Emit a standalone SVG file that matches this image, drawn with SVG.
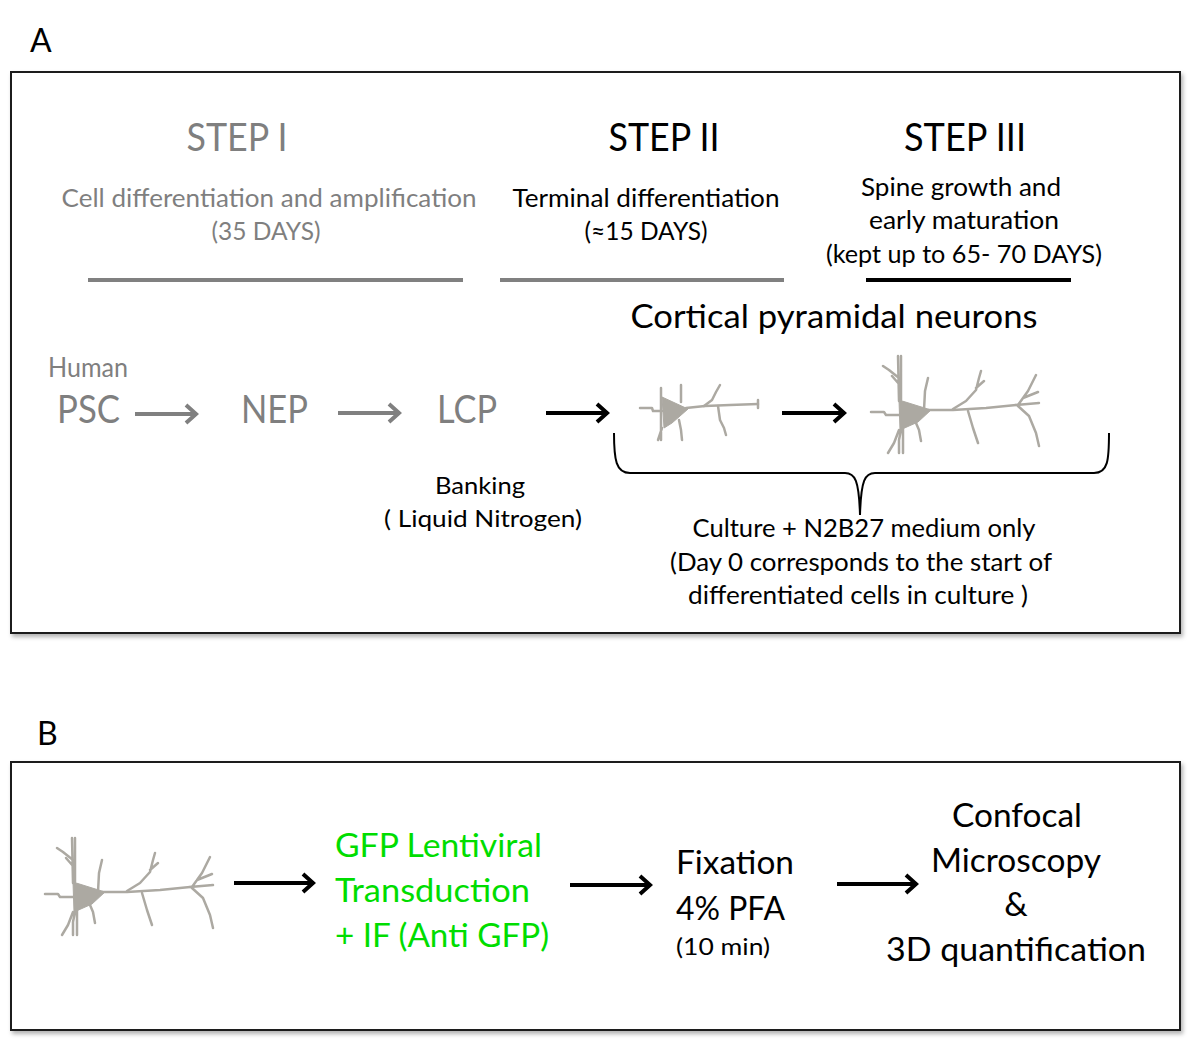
<svg xmlns="http://www.w3.org/2000/svg" xmlns:xlink="http://www.w3.org/1999/xlink" width="1200" height="1060" viewBox="0 0 1200 1060">
<defs>
<style>
text{font-family:Lato,"Liberation Sans",sans-serif}
.g{fill:#7f7f7f}
.k{fill:#000}
.gr{fill:#00dd00}
.box{fill:#fff;stroke:#1a1a1a;stroke-width:2}
.bar{stroke-width:4;fill:none}
.arr{fill:none;stroke-width:4;stroke-linecap:butt;stroke-linejoin:miter}
.brace{fill:none;stroke:#000;stroke-width:2}
.neu{fill:none;stroke:#aca9a2;stroke-width:2.5;stroke-linecap:round;stroke-linejoin:round}
.soma{fill:#aca9a2;stroke:#aca9a2;stroke-width:1;stroke-linejoin:round}
</style>
<filter id="sh" x="-5%" y="-5%" width="110%" height="115%">
<feDropShadow dx="2" dy="3" stdDeviation="2" flood-color="#000" flood-opacity="0.3"/>
</filter>
<g id="neuronBig">
<path class="soma" d="M73,882 L74,912 L92,904 L105,892 Z"/>
<path class="neu" stroke-width="4" d="M102,892 L127,892 L160,890 L190,887"/>
<path class="neu" d="M190,887 L213,885 M127,891 L140,883 L150,872 L153,860 L155,853 M150,870 L158,863 M142,893 L147,910 L152,925 M192,887 L202,873 L210,857 M197,880 L212,874 M192,888 L203,898 L210,915 L213,928 M98,892 L99,873 L102,860 M72,838 L73,883 M75,838 L75,882 M73,860 L63,852 L57,848 M73,866 L66,858 M45,894 L58,894 L60,897 L73,897 M73,912 L68,925 L62,935 M75,912 L73,922 L73,935 M77,910 L77,935 M90,905 L93,912 L95,923"/>
</g>
</defs>

<rect width="1200" height="1060" fill="#fff"/>

<g id="panelA">
<text x="30" y="52" font-size="32" class="k">A</text>
<rect class="box" x="11" y="72" width="1169" height="561" filter="url(#sh)"/>
</g>

<g id="step1">
<text x="237" y="151" font-size="38" class="g" text-anchor="middle" textLength="101" lengthAdjust="spacingAndGlyphs">STEP I</text>
<text x="269" y="207" font-size="25" class="g" text-anchor="middle" textLength="415" lengthAdjust="spacingAndGlyphs">Cell differentiation and amplification</text>
<text x="266" y="240" font-size="25" class="g" text-anchor="middle" textLength="109" lengthAdjust="spacingAndGlyphs">(35 DAYS)</text>
<line class="bar" x1="88" y1="280" x2="463" y2="280" stroke="#808080"/>
</g>

<g id="step2">
<text x="664" y="151" font-size="38" class="k" text-anchor="middle" textLength="111" lengthAdjust="spacingAndGlyphs">STEP II</text>
<text x="646" y="207" font-size="25" class="k" text-anchor="middle" textLength="267" lengthAdjust="spacingAndGlyphs">Terminal differentiation</text>
<text x="646" y="240" font-size="25" class="k" text-anchor="middle" textLength="123" lengthAdjust="spacingAndGlyphs">(≈15 DAYS)</text>
<line class="bar" x1="500" y1="280" x2="784" y2="280" stroke="#808080"/>
</g>

<g id="step3">
<text x="965" y="151" font-size="38" class="k" text-anchor="middle" textLength="122" lengthAdjust="spacingAndGlyphs">STEP III</text>
<text x="961" y="196" font-size="25" class="k" text-anchor="middle" textLength="200" lengthAdjust="spacingAndGlyphs">Spine growth and</text>
<text x="964" y="229" font-size="25" class="k" text-anchor="middle" textLength="190" lengthAdjust="spacingAndGlyphs">early maturation</text>
<text x="964" y="263" font-size="25" class="k" text-anchor="middle" textLength="276" lengthAdjust="spacingAndGlyphs">(kept up to 65- 70 DAYS)</text>
<line class="bar" x1="866" y1="280" x2="1071" y2="280" stroke="#000"/>
</g>

<g id="title-cortical">
<text x="834" y="328" font-size="33" class="k" text-anchor="middle" textLength="407" lengthAdjust="spacingAndGlyphs">Cortical pyramidal neurons</text>
</g>

<g id="node-psc">
<text x="48" y="377" font-size="26" class="g" textLength="80" lengthAdjust="spacingAndGlyphs">Human</text>
<text x="57" y="423" font-size="38" class="g" textLength="63" lengthAdjust="spacingAndGlyphs">PSC</text>
</g>
<g id="node-nep">
<text x="241" y="423" font-size="38" class="g" textLength="67" lengthAdjust="spacingAndGlyphs">NEP</text>
</g>
<g id="node-lcp">
<text x="437" y="423" font-size="38" class="g" textLength="60" lengthAdjust="spacingAndGlyphs">LCP</text>
</g>
<g id="banking">
<text x="480" y="494" font-size="24" class="k" text-anchor="middle" textLength="90" lengthAdjust="spacingAndGlyphs">Banking</text>
<text x="483" y="527" font-size="24" class="k" text-anchor="middle" textLength="198" lengthAdjust="spacingAndGlyphs">( Liquid Nitrogen)</text>
</g>

<g id="neuron-young">
<path class="soma" d="M662,397 L664,428 L672,423 L688,409 Z"/>
<path class="neu" stroke-width="4" d="M686,408 L705,406 L730,405 L758,404"/>
<path class="neu" d="M758,400 L758,408 M640,408 L652,408 L653,411 L662,411 M661,388 L661,440 M681,385 L681,402 M704,406 L712,400 L716,392 L720,385 M718,406 L720,420 L724,428 L726,435 M679,420 L681,430 L682,440 M662,428 L658,440"/>
</g>

<g id="neuron-mature">
<use xlink:href="#neuronBig" href="#neuronBig" transform="translate(826,-482)"/>
</g>

<g id="culture-note">
<text x="864" y="537" font-size="25" class="k" text-anchor="middle" textLength="343" lengthAdjust="spacingAndGlyphs">Culture + N2B27 medium only</text>
<text x="861" y="571" font-size="25" class="k" text-anchor="middle" textLength="382" lengthAdjust="spacingAndGlyphs">(Day 0 corresponds to the start of</text>
<text x="858" y="604" font-size="25" class="k" text-anchor="middle" textLength="340" lengthAdjust="spacingAndGlyphs">differentiated cells in culture )</text>
</g>

<g id="panelB">
<text x="37" y="745" font-size="32" class="k">B</text>
<rect class="box" x="11" y="762" width="1169" height="268" filter="url(#sh)"/>
</g>

<g id="neuron-b">
<use xlink:href="#neuronBig" href="#neuronBig"/>
</g>

<g id="node-gfp">
<text x="335" y="857" font-size="33" class="gr" textLength="207" lengthAdjust="spacingAndGlyphs">GFP Lentiviral</text>
<text x="335" y="902" font-size="33" class="gr" textLength="195" lengthAdjust="spacingAndGlyphs">Transduction</text>
<text x="335" y="947" font-size="33" class="gr" textLength="214" lengthAdjust="spacingAndGlyphs">+ IF (Anti GFP)</text>
</g>

<g id="node-fixation">
<text x="676" y="874" font-size="33" class="k" textLength="118" lengthAdjust="spacingAndGlyphs">Fixation</text>
<text x="676" y="920" font-size="33" class="k" textLength="109" lengthAdjust="spacingAndGlyphs">4% PFA</text>
<text x="676" y="955" font-size="24" class="k" textLength="94" lengthAdjust="spacingAndGlyphs">(10 min)</text>
</g>

<g id="node-confocal">
<text x="1017" y="827" font-size="33" class="k" text-anchor="middle" textLength="130" lengthAdjust="spacingAndGlyphs">Confocal</text>
<text x="1016" y="872" font-size="33" class="k" text-anchor="middle" textLength="170" lengthAdjust="spacingAndGlyphs">Microscopy</text>
<text x="1016" y="916" font-size="33" class="k" text-anchor="middle">&amp;</text>
<text x="1016" y="961" font-size="33" class="k" text-anchor="middle" textLength="260" lengthAdjust="spacingAndGlyphs">3D quantification</text>
</g>

<g id="connectors">
<path class="arr" stroke="#808080" d="M135,414 L196,414 M186,405 L196,414 L186,423"/>
<path class="arr" stroke="#808080" d="M338,413 L399,413 M389,404 L399,413 L389,422"/>
<path class="arr" stroke="#000" d="M546,413 L607,413 M597,404 L607,413 L597,422"/>
<path class="arr" stroke="#000" d="M782,413 L844,413 M834,404 L844,413 L834,422"/>
<path class="brace" d="M614,433 C614,460 616,473 630,473 L845,473 C855,473 859,480 860,515 C861,480 865,473 875,473 L1094,473 C1108,473 1109,460 1109,433"/>
<path class="arr" stroke="#000" d="M234,883 L313,883 M303,874 L313,883 L303,892"/>
<path class="arr" stroke="#000" d="M570,885 L650,885 M640,876 L650,885 L640,894"/>
<path class="arr" stroke="#000" d="M837,884 L916,884 M906,875 L916,884 L906,893"/>
</g>
</svg>
